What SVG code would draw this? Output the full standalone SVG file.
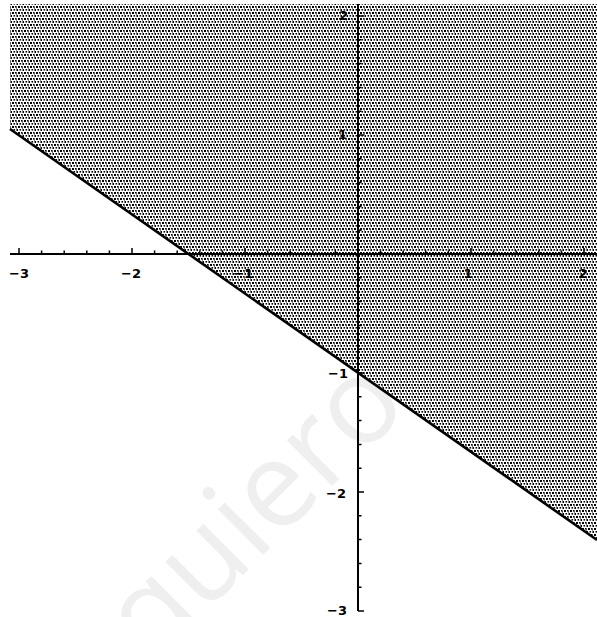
<svg xmlns="http://www.w3.org/2000/svg" width="597" height="617" viewBox="0 0 597 617">
<defs>
<pattern id="stipple" x="0" y="0" width="6" height="6" patternUnits="userSpaceOnUse">
<rect x="0" y="0" width="2" height="2" fill="#000"/>
<rect x="3" y="0" width="1.6" height="1.6" fill="#000"/>
<rect x="1.5" y="3" width="1.6" height="1.6" fill="#000"/>
<rect x="4.5" y="3" width="2" height="2" fill="#000"/>
<rect x="4" y="1.5" width="1" height="1" fill="#000"/>
</pattern>
</defs>
<style>
.lbl{font-family:"DejaVu Sans","Liberation Sans",sans-serif;font-size:13px;font-weight:bold;fill:#000}
.xl{text-anchor:middle}
.yl{text-anchor:end}
.ax{stroke:#000;stroke-width:2;fill:none}
.tk{stroke:#000;stroke-width:1.5;fill:none}
</style>
<rect width="597" height="617" fill="#fff"/>
<g id="region">
<polygon points="10,4 597,4 597,540 10,129" fill="url(#stipple)"/>
</g>
<g id="watermark">
<text transform="translate(152,666) rotate(-45)" font-family="Open Sans, sans-serif" font-size="120" fill="#efefef">quiero</text>
</g>
<g id="connectors">
<line id="boundary" x1="10" y1="129" x2="597" y2="540" stroke="#000" stroke-width="2.6"/>
<line id="x-axis" class="ax" x1="10" y1="254" x2="597" y2="254"/>
<line id="y-axis" class="ax" x1="358" y1="4" x2="358" y2="611"/>
<path class="tk" d="M19,254V248M41.6,254V250.5M64.2,254V250.5M86.8,254V250.5M109.4,254V250.5M132,254V248M154.6,254V250.5M177.2,254V250.5M199.8,254V250.5M222.4,254V250.5M245,254V248M267.6,254V250.5M290.2,254V250.5M312.8,254V250.5M335.4,254V250.5M380.6,254V250.5M403.2,254V250.5M425.8,254V250.5M448.4,254V250.5M471,254V248M493.6,254V250.5M516.2,254V250.5M538.8,254V250.5M561.4,254V250.5M584,254V248"/>
<path class="tk" d="M358,16H364M358,39.8H361.5M358,63.6H361.5M358,87.4H361.5M358,111.2H361.5M358,135H364M358,158.8H361.5M358,182.6H361.5M358,206.4H361.5M358,230.2H361.5M358,277.8H361.5M358,301.6H361.5M358,325.4H361.5M358,349.2H361.5M358,373H364M358,396.8H361.5M358,420.6H361.5M358,444.4H361.5M358,468.2H361.5M358,492H364M358,515.8H361.5M358,539.6H361.5M358,563.4H361.5M358,587.2H361.5M358,611H364"/>
</g>
<g id="labels">
<text class="lbl xl" x="19" y="278">−3</text>
<text class="lbl xl" x="131" y="278">−2</text>
<text class="lbl xl" x="243" y="278">−1</text>
<text class="lbl xl" x="468" y="278">1</text>
<text class="lbl xl" x="583" y="278">2</text>
<text class="lbl yl" x="348" y="20">2</text>
<text class="lbl yl" x="347" y="139">1</text>
<text class="lbl yl" x="348" y="378">−1</text>
<text class="lbl yl" x="346" y="498">−2</text>
<text class="lbl yl" x="347" y="615">−3</text>
</g>
</svg>
